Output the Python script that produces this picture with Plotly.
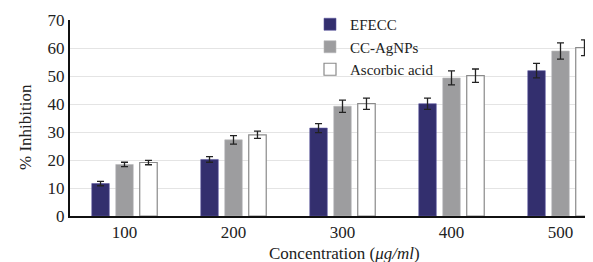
import plotly.graph_objects as go

categories = ["100", "200", "300", "400", "500"]
efecc = [11.6, 20.2, 31.4, 40.1, 51.9]
efecc_err = [0.8, 1.0, 1.6, 2.0, 2.6]
agnps = [18.4, 27.2, 39.2, 49.3, 58.9]
agnps_err = [0.8, 1.5, 2.2, 2.5, 2.9]
ascorbic = [19.1, 29.0, 40.1, 50.1, 60.1]
ascorbic_err = [0.8, 1.3, 2.0, 2.4, 2.8]
y_ticks = [0, 10, 20, 30, 40, 50, 60, 70]

FONT = "Liberation Serif"
err_style = dict(type="data", visible=True, color="#222222", thickness=1.3, width=3.5)

# page body has an 8px default margin; figure coordinates compensate for it
L, T, B, PW, PH = 62, 12, 46, 523, 196

fig = go.Figure()
fig.add_trace(go.Bar(name="EFECC", x=categories, y=efecc,
                     error_y=dict(array=efecc_err, **err_style),
                     marker=dict(color="#332f6e", line=dict(color="#5a56a0", width=0.6))))
fig.add_trace(go.Bar(name="CC-AgNPs", x=categories, y=agnps,
                     error_y=dict(array=agnps_err, **err_style),
                     marker=dict(color="#9d9d9f", line=dict(color="#b8b8ba", width=0.6))))
fig.add_trace(go.Bar(name="Ascorbic acid", x=categories, y=ascorbic,
                     error_y=dict(array=ascorbic_err, **err_style),
                     cliponaxis=True,
                     marker=dict(color="#ffffff", line=dict(color="#8a8a8a", width=1.2))))

fig.update_layout(
    width=L + PW, height=T + PH + B,
    margin=dict(l=L, r=0, t=T, b=B),
    paper_bgcolor="white", plot_bgcolor="white",
    barmode="group", bargap=0.34, bargroupgap=0.27,
    font=dict(family=FONT, color="#222222", size=16),
    showlegend=True,
    legend=dict(x=(302 - L) / PW, y=(T + PH - 0) / PH, xanchor="left", yanchor="top",
                bgcolor="rgba(0,0,0,0)", font=dict(family=FONT, size=15, color="#222222"),
                tracegroupgap=0, borderwidth=0),
    xaxis=dict(range=[-0.5, -0.5 + PW / 109], showgrid=False, showline=True,
               linecolor="#111111", linewidth=2, ticks="",
               tickfont=dict(family=FONT, size=17, color="#222222")),
    yaxis=dict(range=[0, 70], tickvals=y_ticks, showgrid=True, gridcolor="#e4e4e4",
               gridwidth=1, showline=True, linecolor="#111111", linewidth=2,
               ticks="", zeroline=False,
               tickfont=dict(family=FONT, size=17, color="#222222")),
    annotations=[
        dict(text="% Inhibition", x=(17 - L) / PW, y=(T + PH - 119) / PH,
             xref="paper", yref="paper", textangle=-90, showarrow=False,
             xanchor="center", yanchor="middle",
             font=dict(family=FONT, size=17, color="#222222")),
        dict(text="Concentration (<i>μg/ml</i>)", x=(336 - L) / PW, y=(T + PH - 246) / PH,
             xref="paper", yref="paper", showarrow=False,
             xanchor="center", yanchor="middle",
             font=dict(family=FONT, size=17, color="#222222")),
    ],
)

fig.write_html("out.html")
